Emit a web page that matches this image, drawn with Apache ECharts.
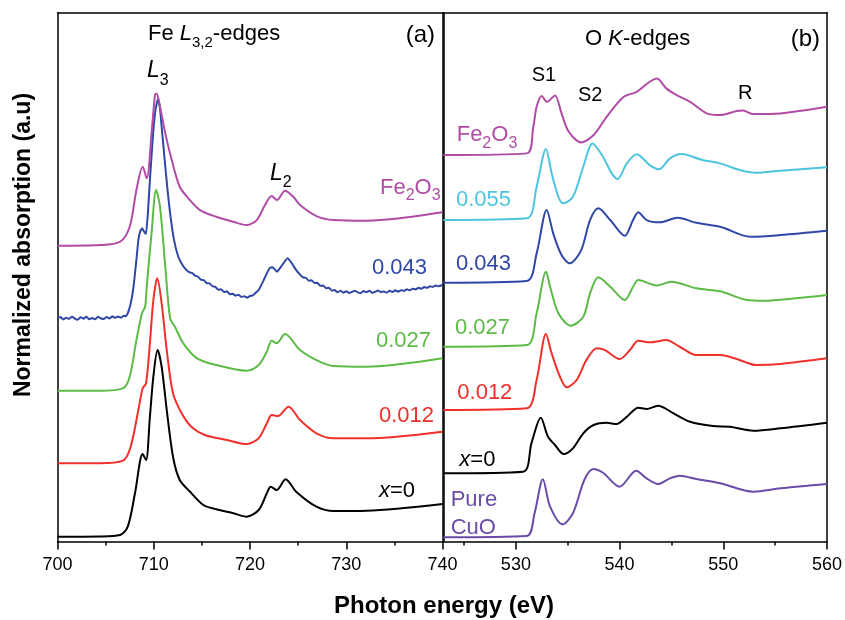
<!DOCTYPE html>
<html>
<head>
<meta charset="utf-8">
<script src="https://cdn.jsdelivr.net/npm/echarts@6/dist/echarts.min.js"></script>
<style>html,body{margin:0;padding:0;background:#fff}#c{width:845px;height:620px}</style>
</head>
<body>
<div id="c"></div>
<script>
// ---------- Panel (a): Fe L3,2-edges, [photon energy eV, normalized absorption a.u.] ----------
const feTicks = [700, 710, 720, 730, 740];
const feFe2O3 = [[700,295.9],[704.4,296.6],[706.5,299.9],[707.5,314.9],[708.2,351.6],[708.85,374.9],[709.27,363.3],[709.8,411.6],[710.13,446.6],[710.3,448.3],[710.65,434.9],[711.2,408.3],[711.87,381.6],[712.7,354.9],[713.6,343.3],[714.8,331.6],[716.5,324.9],[718.27,319.9],[719.66,316.6],[720.7,321.6],[721.56,336.6],[722.25,345.6],[722.8,341.6],[723.64,350.9],[724.5,344.9],[725.2,336.6],[726.9,325.6],[728.7,321.6],[732.1,320.9],[735.6,323.3],[740,329.3]];
const fe043 = [[700,223.0],[700.3,224.6],[700.6,222.2],[700.9,223.9],[701.2,222.8],[701.5,225.0],[701.8,223.1],[702.1,222.0],[702.4,224.4],[702.7,223.0],[703.0,224.9],[703.3,222.5],[703.6,223.6],[703.9,222.3],[704.2,224.8],[704.5,223.4],[704.8,222.6],[705.1,224.7],[705.4,223.2],[705.7,225.3],[706.0,223.9],[706.3,225.1],[706.6,224.0],[706.9,225.8],[707.1,225.4],[707.3,228.3],[707.6,238.0],[707.9,254.9],[708.2,282.0],[708.4,301.6],[708.6,310.5],[708.8,313.3],[709.0,310.0],[709.2,307.6],[709.4,330.0],[709.6,361.6],[709.8,390.0],[709.96,411.6],[710.2,433.0],[710.45,443.3],[710.65,433.0],[710.82,414.9],[711.0,396.0],[711.2,374.9],[711.45,350.0],[711.7,328.3],[712.1,302.0],[712.55,284.9],[713.0,276.5],[713.4,271.6],[713.7,269.4],[714.0,268.6],[714.3,266.0],[714.6,264.9],[714.9,262.0],[715.2,261.5],[715.5,258.6],[715.8,258.2],[716.1,255.4],[716.4,254.8],[716.7,252.0],[717.0,252.5],[717.3,249.6],[717.6,250.3],[717.9,247.5],[718.2,248.0],[718.5,246.0],[718.8,247.0],[719.1,244.6],[719.4,245.5],[719.7,244.0],[720.0,245.6],[720.3,246.3],[720.6,249.0],[720.9,251.6],[721.3,259.0],[721.75,268.3],[722.05,273.5],[722.35,274.3],[722.8,269.9],[723.3,276.0],[723.9,283.3],[724.3,279.0],[724.8,271.6],[725.2,267.0],[725.5,264.2],[725.8,263.9],[726.1,261.0],[726.4,261.4],[726.7,258.6],[727.0,258.9],[727.3,255.8],[727.6,256.1],[727.9,253.5],[728.2,253.9],[728.5,251.0],[728.8,251.6],[729.1,249.4],[729.4,250.9],[729.7,249.0],[730.0,250.3],[730.3,248.6],[730.6,249.8],[730.9,251.0],[731.2,249.2],[731.5,248.5],[731.8,250.6],[732.1,249.4],[732.4,250.9],[732.7,248.8],[733.0,249.7],[733.3,251.2],[733.6,249.5],[733.9,250.2],[734.2,248.9],[734.5,250.8],[734.8,249.6],[735.1,251.3],[735.4,250.0],[735.7,251.5],[736.0,250.7],[736.3,252.4],[736.6,251.3],[736.9,253.0],[737.2,252.2],[737.5,253.8],[737.8,252.9],[738.1,254.6],[738.4,253.8],[738.7,255.3],[739.0,254.7],[739.3,256.1],[739.6,255.4],[740,256.6]];
const fe027 = [[700,150.9],[704.4,150.9],[706.8,153.3],[707.5,164.9],[708.2,201.6],[708.78,228.3],[709.1,234.9],[709.27,254.9],[709.8,311.6],[710.24,351.6],[710.65,334.9],[711.2,274.9],[711.7,223.3],[712.2,214.9],[713.07,198.3],[714.5,183.3],[716.5,176.6],[719.66,170.9],[720.9,176.6],[721.75,189.9],[722.25,200.9],[722.77,198.3],[723.64,207.6],[725.2,191.6],[726.9,181.6],[728.7,175.6],[732.1,174.9],[740,183.3]];
const fe012 = [[700,78.3],[704.4,78.3],[706.8,80.9],[707.6,94.9],[708.4,131.6],[708.85,153.3],[709.2,158.3],[709.6,198.3],[709.96,241.6],[710.37,263.3],[710.82,238.3],[711.35,191.6],[712.0,148.3],[712.9,128.3],[713.9,114.9],[715.3,106.6],[717.6,101.6],[719.66,97.6],[720.9,103.3],[721.75,118.3],[722.25,126.6],[722.9,125.6],[724.0,134.9],[725.2,121.6],[726.9,108.3],[728.7,103.3],[732.1,103.3],[740,109.9]];
const fe000 = [[700,4.9],[704.4,5.1],[706.5,6.6],[707.3,14.9],[708.05,48.3],[708.85,87.6],[709.2,81.6],[709.6,124.9],[709.96,164.9],[710.4,191.6],[710.82,174.9],[711.35,131.6],[712.0,84.9],[712.7,61.6],[713.77,49.9],[715.15,36.6],[716.5,32.3],[718.27,28.3],[719.66,24.9],[720.9,31.6],[721.75,48.3],[722.15,54.9],[722.77,51.6],[723.7,62.3],[724.8,49.9],[726.9,34.9],[728.7,30.6],[732.1,30.9],[740,37.6]];

// ---------- Panel (b): O K-edges ----------
const oTicks = [530, 540, 550, 560];
const oMinorTicks = [525, 535, 545, 555];
const oFe2O3 = [[523,386.6],[531.04,388.3],[531.68,414.9],[532.0,434.9],[532.49,445.6],[533.0,439.9],[533.77,446.3],[534.4,428.3],[535.1,409.9],[536.3,399.3],[537.5,406.6],[538.75,424.9],[540.4,444.9],[541.65,449.9],[542.9,459.9],[543.6,463.3],[544.5,453.3],[545.5,446.6],[546.8,439.9],[548.4,428.3],[549.7,426.6],[551.3,430.6],[551.9,431.1],[552.9,427.6],[555.5,428.3],[560,434.9]];
const o055 = [[523,321.6],[531.04,323.3],[532.0,354.9],[532.9,392.6],[533.45,368.3],[534.1,344.9],[534.57,338.3],[535.5,344.9],[536.5,374.9],[537.4,398.3],[538.4,384.9],[539.25,368.3],[539.8,362.6],[540.7,378.3],[541.65,387.3],[542.9,376.6],[543.8,372.3],[544.86,383.3],[546.0,387.6],[548.0,381.6],[549.7,378.3],[551.6,371.6],[553.1,368.9],[555.5,370.9],[560,374.3]];
const o043 = [[523,258.9],[531.04,260.6],[532.0,288.3],[532.97,331.6],[533.6,308.3],[534.4,286.6],[535.2,278.3],[536.3,291.6],[537.15,321.6],[537.95,333.3],[539.1,321.6],[540.5,305.9],[541.3,321.6],[541.8,329.3],[542.6,321.6],[543.9,319.3],[545.6,323.9],[547.4,318.9],[549.7,314.9],[552.6,304.9],[555.5,306.6],[560,310.9]];
const o027 = [[523,194.9],[531.04,196.6],[532.0,228.3],[532.9,269.9],[533.3,254.9],[534.1,228.3],[535.3,215.9],[536.5,224.9],[537.15,248.3],[537.95,264.3],[539.1,254.9],[540.5,241.6],[541.3,254.9],[541.8,261.6],[543.6,256.1],[545.0,259.9],[547.4,253.3],[549.7,250.3],[552.3,241.6],[553.9,240.9],[557,243.3],[560,246.6]];
const o012 = [[523,131.6],[531.04,133.3],[532.0,161.6],[532.9,207.6],[533.45,188.3],[534.25,164.9],[534.9,154.3],[535.86,161.6],[536.8,181.6],[537.8,193.3],[538.6,191.6],[540.0,182.6],[541.0,191.6],[541.8,200.9],[542.9,199.3],[544.5,201.6],[545.8,194.9],[547.4,186.6],[549.7,186.6],[551.3,182.6],[553.2,176.6],[555.5,177.6],[560,183.3]];
const o000 = [[523,68.3],[530.7,69.9],[531.5,98.3],[532.4,123.9],[533.1,104.9],[533.77,96.6],[534.6,87.6],[535.5,93.3],[536.5,108.3],[537.5,116.6],[538.75,118.9],[539.7,117.6],[540.7,124.9],[541.8,133.9],[542.6,132.6],[543.7,135.9],[545.2,128.3],[546.8,119.9],[549.0,115.6],[550.65,114.9],[552.9,110.9],[555.5,113.3],[560,118.9]];
const oCuO = [[523,4.3],[531.04,5.6],[531.8,28.3],[532.6,62.3],[533.3,34.9],[534.5,17.3],[535.5,28.3],[536.6,61.6],[537.47,72.6],[538.4,68.9],[540.0,54.9],[541.6,70.9],[542.6,63.3],[543.7,57.6],[544.86,63.3],[545.8,65.9],[547.4,62.6],[549.7,58.3],[552.9,49.9],[555.5,53.3],[560,57.6]];

const C = {fe2o3:'#b04ca6', x055:'#4ec5df', x043:'#2f47a6', x027:'#5cba47', x012:'#f0302b', x000:'#000000', cuo:'#6a4ca8'};
const FONT = '"Liberation Sans", Arial, sans-serif';

const chart = echarts.init(document.getElementById('c'), null, {renderer:'canvas'});
const axLine = {show:true, onZero:false, lineStyle:{color:'#000', width:1.5}};
const yBase = {type:'value', min:0, max:529, axisLine:axLine, axisTick:{show:false}, axisLabel:{show:false}, splitLine:{show:false}};

function line(data, color, xi, yi, smooth){
  return {type:'line', data, xAxisIndex:xi, yAxisIndex:yi, showSymbol:false, symbol:'none',
    smooth: smooth == null ? 0.3 : smooth,
    lineStyle:{color, width:2}, itemStyle:{color}, animation:false, z:3};
}
function txt(x, y, text, opt){
  opt = opt || {};
  return {type:'text', x, y, z:10, rotation: opt.rotation || 0,
    style:Object.assign({text, fill: opt.fill || '#000', font: opt.font || ('22px ' + FONT),
      textAlign: opt.align || 'left', align: opt.align || 'left',
      textVerticalAlign:'middle', verticalAlign:'middle'}, opt.rich ? {rich: opt.rich} : {})};
}
function subRich(size, subSize, off, color){
  return {
    n:{fontSize:size, fontFamily:FONT, fill:color, lineHeight:size+4},
    i:{fontSize:size, fontFamily:FONT, fill:color, fontStyle:'italic', lineHeight:size+4},
    s:{fontSize:subSize, fontFamily:FONT, fill:color, lineHeight:subSize+2, padding:[2*off,0,0,0]}
  };
}

const option = {
  animation:false,
  backgroundColor:'#fff',
  grid:[
    {left:57.5, right:402.5, top:12.7, bottom:78.4},
    {left:443.3, right:16.7, top:12.7, bottom:78.4}
  ],
  xAxis:[
    {type:'value', gridIndex:0, position:'bottom', min:700, max:740, interval:10,
      axisLine:axLine, axisTick:{show:true, inside:false, length:8, lineStyle:{color:'#000', width:1.5}},
      minorTick:{show:true, splitNumber:2, length:4, lineStyle:{color:'#000', width:1.5}},
      axisLabel:{show:true, fontSize:18, color:'#000', fontFamily:FONT, margin:14, customValues: feTicks},
      splitLine:{show:false}, minorSplitLine:{show:false}},
    {type:'value', gridIndex:0, position:'top', min:700, max:740, axisLine:axLine,
      axisTick:{show:false}, axisLabel:{show:false}, splitLine:{show:false}},
    {type:'value', gridIndex:1, position:'bottom', min:523, max:560,
      axisLine:axLine,
      axisTick:{show:true, inside:false, length:8, customValues:oTicks, lineStyle:{color:'#000', width:1.5}},
      axisLabel:{show:true, fontSize:18, color:'#000', fontFamily:FONT, margin:14, customValues:oTicks},
      splitLine:{show:false}},
    {type:'value', gridIndex:1, position:'bottom', min:523, max:560,
      axisLine:{show:false, onZero:false},
      axisTick:{show:true, inside:false, length:4, customValues:oMinorTicks, lineStyle:{color:'#000', width:1.5}},
      axisLabel:{show:false}, splitLine:{show:false}},
    {type:'value', gridIndex:1, position:'top', min:523, max:560, axisLine:axLine,
      axisTick:{show:false}, axisLabel:{show:false}, splitLine:{show:false}}
  ],
  yAxis:[
    Object.assign({gridIndex:0, position:'left'}, yBase),
    Object.assign({gridIndex:0, position:'right'}, yBase),
    Object.assign({gridIndex:1, position:'left'}, yBase),
    Object.assign({gridIndex:1, position:'right'}, yBase)
  ],
  series:[
    line(fe000, C.x000, 0, 0),
    line(fe012, C.x012, 0, 0),
    line(fe027, C.x027, 0, 0),
    line(fe043, C.x043, 0, 0, 0.12),
    line(feFe2O3, C.fe2o3, 0, 0),
    line(oCuO, C.cuo, 2, 2),
    line(o000, C.x000, 2, 2),
    line(o012, C.x012, 2, 2),
    line(o027, C.x027, 2, 2),
    line(o043, C.x043, 2, 2),
    line(o055, C.x055, 2, 2),
    line(oFe2O3, C.fe2o3, 2, 2)
  ],
  graphic:[
    // axis titles
    txt(24, 245, 'Normalized absorption (a.u)', {font:'bold 23px ' + FONT, align:'center', rotation:Math.PI/2}),
    txt(444, 606, 'Photon energy (eV)', {font:'bold 24px ' + FONT, align:'center'}),
    // panel a
    txt(148, 33.5, '{n|Fe }{i|L}{s|3,2}{n|-edges}', {rich:subRich(22, 15, 9, '#000')}),
    txt(435, 35.8, '(a)', {font:'24px ' + FONT, align:'right'}),
    txt(147, 70.8, '{i|L}{s|3}', {rich:subRich(23, 16, 10, '#000')}),
    txt(270, 173.5, '{i|L}{s|2}', {rich:subRich(23, 16, 9, '#000')}),
    txt(380, 187.5, '{n|Fe}{s|2}{n|O}{s|3}', {rich:subRich(22, 16, 8.5, C.fe2o3)}),
    txt(372, 267.5, '0.043', {fill:C.x043}),
    txt(376, 340.8, '0.027', {fill:C.x027}),
    txt(379, 416, '0.012', {fill:C.x012}),
    txt(379, 491, '{i|x}{n|=0}', {rich:subRich(22, 14, 8, '#000')}),
    // panel b
    txt(585, 38.7, '{n|O }{i|K}{n|-edges}', {rich:subRich(22, 14, 8, '#000')}),
    txt(820, 39, '(b)', {font:'24px ' + FONT, align:'right'}),
    txt(531.7, 75.8, 'S1', {font:'20px ' + FONT}),
    txt(578, 95, 'S2', {font:'20px ' + FONT}),
    txt(738, 93, 'R', {font:'20px ' + FONT}),
    txt(456.7, 135, '{n|Fe}{s|2}{n|O}{s|3}', {rich:subRich(22, 16, 8.5, C.fe2o3)}),
    txt(456, 200, '0.055', {fill:C.x055}),
    txt(456, 263.7, '0.043', {fill:C.x043}),
    txt(455, 327.8, '0.027', {fill:C.x027}),
    txt(457.3, 393.3, '0.012', {fill:C.x012}),
    txt(459.3, 459.7, '{i|x}{n|=0}', {rich:subRich(22, 14, 8, '#000')}),
    txt(450.7, 500, 'Pure', {fill:C.cuo}),
    txt(450.7, 527.5, 'CuO', {fill:C.cuo})
  ]
};
chart.setOption(option);
</script>
</body>
</html>
